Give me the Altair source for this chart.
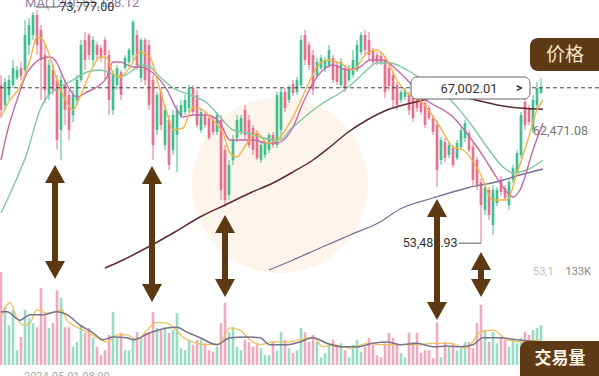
import altair as alt
import pandas as pd

# ---------------- data ----------------
opens = [67245, 65505, 66375, 67245, 67854, 68724, 68550, 70725, 71595, 73335,
         72030, 69855, 66375, 68550, 67680, 63330, 67245, 66375, 64635, 65940,
         67680, 71160, 71595, 69420, 70725, 70464, 71160, 69855, 65070, 67245,
         68376, 68724, 69246, 69855, 71595, 67854, 71160, 70725, 67680, 63330,
         66636, 62025, 64200, 61590, 62895, 64635, 64896, 65244, 66984, 66375,
         63330, 64635, 64374, 64200, 63156, 64200, 61590, 57675, 60720, 62634,
         63156, 65070, 64200, 63504, 63069, 60720, 61155, 61590, 62895, 62025,
         63330, 66636, 65940, 67332, 66636, 67245, 71595, 70725, 69855, 68115,
         68724, 68724, 68985, 69594, 68985, 67245, 68724, 67680, 68115, 68550,
         70116, 71595, 71160, 70290, 69855, 69768, 69420, 68724, 68115, 67245,
         65940, 66201, 66375, 66114, 66375, 66201, 65679, 65244, 64374, 63765,
         60720, 62286, 61155, 61764, 60894, 61851, 62634, 63069, 61851, 60720,
         58806, 56370, 58110, 55065, 56979, 58980, 58284, 56805, 58980, 59676,
         61155, 65766, 65244, 63330, 65505, 66549]
highs = [68115, 67854, 68115, 69420, 68898, 69246, 72900, 73074, 73596, 73777,
         72465, 70725, 69420, 68985, 68115, 68115, 67680, 66810, 66810, 68115,
         71160, 71856, 71769, 71508, 70986, 70725, 71421, 70290, 68550, 68985,
         68550, 69855, 70464, 72900, 72030, 71334, 71334, 71160, 68115, 66636,
         66984, 65505, 64635, 65070, 65505, 65940, 66375, 67245, 67245, 66810,
         65244, 64896, 64635, 64461, 64896, 64635, 62025, 60720, 62895, 64635,
         64635, 65505, 64635, 63765, 63330, 62286, 62460, 63069, 63156, 66636,
         66984, 66984, 67245, 67680, 67941, 71595, 72030, 70986, 70290, 69594,
         69855, 69681, 70725, 69855, 69246, 69594, 68985, 68985, 70290, 71160,
         71856, 72030, 71856, 70464, 70116, 70116, 69768, 68985, 68376, 67506,
         66810, 66984, 66636, 66375, 66636, 66462, 65940, 65505, 64635, 64200,
         62721, 62634, 62286, 62025, 62460, 63591, 64200, 63330, 62199, 60981,
         59154, 58545, 58371, 58545, 58371, 59328, 58545, 59154, 60285, 61590,
         64896, 66114, 65505, 66375, 67506, 67854]
lows = [64374, 65070, 65940, 66984, 67680, 67680, 68376, 69855, 71160, 69855,
        65940, 65679, 65940, 66375, 61590, 60720, 63765, 62460, 64026, 65505,
        67506, 68550, 69420, 68985, 69420, 69246, 67680, 64635, 64635, 66810,
        65940, 68550, 68898, 69420, 68550, 67506, 67245, 65070, 60720, 62895,
        63330, 61590, 59850, 61155, 59676, 64374, 64635, 64896, 64635, 63504,
        63069, 63504, 62460, 62895, 62895, 57240, 56631, 57240, 60285, 62286,
        62895, 62460, 61764, 61155, 60720, 60459, 60894, 61329, 61764, 61764,
        62460, 64896, 65679, 66288, 66375, 66984, 68985, 68550, 66375, 67854,
        68550, 68376, 68724, 67419, 67245, 66984, 66636, 67506, 67854, 68376,
        69855, 69855, 69420, 68985, 68985, 68985, 66114, 66810, 65244, 65070,
        65679, 65940, 64635, 64026, 64896, 64635, 63504, 64200, 62895, 58371,
        60285, 60546, 60894, 60024, 60720, 61590, 62286, 61416, 58545, 58110,
        53485.93, 55935, 55500, 54195, 56718, 57588, 57240, 56370, 58719, 59415,
        60894, 63330, 63765, 63069, 65070, 66462]
closes = [65070, 67506, 67680, 68724, 68550, 68028, 71595, 72465, 73335, 70725,
          69420, 66810, 68985, 66810, 62460, 67680, 65070, 63330, 66375, 67680,
          70725, 69420, 69855, 71160, 69855, 69594, 69855, 65940, 68115, 68724,
          66375, 69594, 70290, 72726, 68985, 71160, 67680, 65505, 62025, 66375,
          63765, 65070, 60285, 64635, 65070, 65505, 65940, 66984, 64896, 63765,
          64896, 63765, 62634, 63156, 64635, 58110, 57240, 60285, 62460, 64200,
          64374, 62895, 62025, 61590, 60894, 62025, 62286, 62895, 62025, 66375,
          66636, 65244, 66984, 66549, 67680, 71160, 69420, 68985, 66810, 69246,
          69594, 69420, 70290, 67680, 67506, 69246, 66984, 68724, 69420, 70725,
          71595, 70290, 69855, 69246, 69246, 69246, 66636, 67158, 65940, 65505,
          66636, 66810, 65070, 64374, 65244, 64896, 63765, 64374, 63156, 59850,
          62460, 60894, 62025, 60285, 62199, 63330, 63939, 61590, 58980, 58545,
          56805, 58284, 55935, 58110, 58110, 57936, 57414, 58806, 60024, 61329,
          64635, 63765, 64026, 65940, 66984, 67002.01]
volumes_k = [133, 83, 57, 79, 21, 40, 79, 67, 60, 54,
             110, 72, 53, 60, 107, 96, 54, 54, 26, 33,
             57, 46, 53, 39, 26, 14, 21, 43, 76, 39,
             46, 21, 21, 36, 47, 39, 47, 47, 76, 53,
             50, 54, 46, 50, 74, 24, 21, 36, 29, 36,
             36, 31, 21, 19, 26, 60, 89, 47, 54, 26,
             21, 36, 33, 26, 31, 24, 14, 14, 33, 21,
             47, 36, 24, 17, 21, 53, 47, 33, 43, 33,
             11, 17, 31, 36, 26, 31, 21, 11, 29, 36,
             19, 26, 39, 29, 14, 11, 31, 46, 39, 31,
             17, 11, 46, 33, 46, 17, 21, 21, 10, 61,
             11, 33, 26, 31, 21, 24, 33, 33, 24, 60,
             86, 50, 33, 47, 31, 39, 36, 26, 36, 31,
             39, 47, 43, 50, 53, 57]

# moving-average lines (candle index, value)
ma_yellow_i = [0, 2.25, 4.75, 7.25, 9, 10.5, 12.25, 14, 16.5, 18, 19.75, 21.5, 23, 24.75, 26.5, 28, 29.75,
               32.25, 34.75, 37.25, 39, 41.5, 43, 45.5, 48, 50.5, 53, 55.5, 57.25, 59, 61.5, 64, 66.5, 69,
               73, 76.5, 79, 81.5, 84.75, 88, 91.5, 94, 96.5, 99, 101.5, 104.75, 109.75, 113, 115.5,
               119.75, 123, 126.5, 129, 131.5, 134, 135.5]
ma_yellow_v = [64461, 65940, 67071, 69420, 71421, 71160, 69681, 67680, 65679, 65070, 66201, 67680, 68811,
               69681, 69594, 68289, 67941, 68811, 70116, 69681, 67680, 64809, 63330, 63504, 65331, 65070,
               64200, 63069, 61329, 60981, 62199, 63069, 62199, 62460, 64461, 67071, 68811, 69420, 69159,
               68550, 70029, 70290, 69420, 67680, 66549, 65940, 63591, 61851, 61590, 59589, 57240, 57240,
               59589, 62199, 65070, 65940]
ma_magenta_i = [0, 1.5, 4, 6.5, 8, 10.5, 12.25, 14, 15.5, 17.25, 19, 21.5, 24, 26.5, 28, 29.75, 33, 34.75,
                38, 41.5, 44, 45.5, 48, 51.5, 54.75, 57.25, 59.75, 63, 66.5, 69, 73, 75.5, 78, 80.5, 83,
                86.5, 89.75, 92.25, 95.5, 99, 102.25, 104.75, 113, 119, 122.25, 125.5, 128, 129.75, 133,
                135.5]
ma_magenta_v = [60720, 63069, 65940, 68289, 68985, 69594, 69681, 69159, 67941, 66810, 66201, 66636, 67071,
                67941, 69246, 69246, 68811, 68811, 68289, 66810, 65070, 64461, 64635, 64635, 63939, 62460,
                62460, 62460, 62199, 62199, 63591, 65679, 67419, 68550, 68985, 68550, 68811, 69420, 69420,
                68550, 67419, 66375, 64461, 61851, 60111, 58371, 57501, 58110, 61590, 63939]
ma_green_i = [0, 3, 6.5, 9.75, 11.5, 14.75, 18, 21.5, 24.75, 27.25, 29.75, 33, 34.75, 37.25, 39.75, 43,
              47.25, 51.5, 54.75, 58, 61.5, 64.75, 68, 69.75, 72.25, 76.5, 80.5, 84.75, 88, 91.5, 94,
              97.25, 101.5, 104.75, 109.75, 117.25, 121.5, 125.5, 128, 131.5, 135.5]
ma_green_v = [56109, 58371, 61329, 65070, 66201, 67071, 67680, 68376, 68550, 68289, 67941, 68550, 68985,
              68811, 67941, 66984, 66375, 65679, 64461, 63330, 63069, 62721, 62460, 62460, 63330, 64635,
              65679, 66549, 67419, 68550, 69159, 69159, 68550, 67854, 66810, 63939, 61851, 60111, 59589,
              59850, 60720]
ma120_i = [26, 30.5, 37.25, 43.5, 49.75, 56, 62.25, 68, 73, 78, 82.25, 86.5, 91.5, 96.5, 101.5, 104.75,
           109.75, 113.5, 119.75, 125.5, 129.75, 135.5]
ma120_v = [51324, 52020, 53238, 54456, 55761, 56805, 57849, 58719, 59676, 60720, 61851, 63069, 64200,
           65070, 65592, 65853, 66288, 66288, 65853, 65418, 65244, 65128.12]
ma_long_i = [67, 73, 79.75, 87.25, 94.75, 99.75, 108, 116.5, 124.75, 129.75, 135.5]
ma_long_v = [51150, 52020, 53064, 54195, 55326, 56457, 57414, 58284, 58893, 59415, 59937]

vol_ma_gray_i = [0, 1.5, 4.75, 7.25, 10.5, 14, 16.5, 19.75, 23, 25.5, 28, 31.5, 33, 37.25, 41.5, 44, 46.5,
                 49.75, 54, 57.25, 61.5, 64.75, 67.25, 71.5, 74.75, 78, 81.5, 85.5, 89, 93, 96.5, 99.75,
                 104, 108, 111.5, 114.75, 118, 120.5, 124.75, 129, 134.75]
vol_ma_gray_v = [76, 76, 64, 72, 72, 76, 72, 57, 46, 36, 40, 39, 36, 46, 53, 54, 47, 39, 29, 39, 40, 39,
                 29, 29, 33, 39, 31, 26, 26, 31, 33, 29, 31, 26, 27, 26, 29, 39, 39, 36, 33]
vol_ma_yel_i = [0, 2.25, 4, 5.5, 7.25, 9, 11.5, 13.5, 15.25, 16.5, 19, 21.5, 24, 26.5, 29, 31.5, 34, 36.5,
                39, 41.5, 43, 45.5, 49, 51.5, 54.75, 57.25, 59.75, 62.25, 64.75, 68, 71.5, 74.75, 78,
                80.5, 83, 87.25, 91.5, 95.5, 99.75, 104, 108, 112.25, 116.5, 119.75, 123, 126.5, 129.75,
                134.75]
vol_ma_yel_v = [69, 89, 67, 57, 60, 79, 74, 76, 79, 64, 54, 47, 39, 33, 43, 43, 36, 50, 61, 60, 54, 40,
                31, 29, 31, 53, 50, 36, 29, 33, 33, 36, 40, 26, 29, 24, 31, 29, 29, 29, 31, 31, 24, 47,
                50, 36, 33, 36]

# double arrows: candle index, top tip (price), bottom tip (price units)
arrow_i = [13.5, 37.75, 56, 109, 120]
arrow_top = [60285, 60198, 55935, 57327, 52716]
arrow_bottom = [50367, 48366, 48801, 46800, 48801]

# ---------------- styling ----------------
GREEN, PINK = "#3fbf8f", "#e8718e"
GREEN_V, PINK_V = "#98dcc4", "#f3a9bd"
BROWN = "#5c3913"
W, H = 599, 376
X = alt.Scale(domain=[-0.25, -0.25 + W / 4], nice=False, zero=False)
PY = alt.Scale(domain=[74640 - H * 87, 74640], nice=False, zero=False)
VY = alt.Scale(domain=[-11 * 1.43, 365 * 1.43], nice=False, zero=False)
FONT = "Roboto"
CJK = "Noto Sans CJK SC"

n = len(opens)
df = pd.DataFrame({"i": list(range(n)), "open": opens, "high": highs, "low": lows,
                   "close": closes, "vol": volumes_k, "zero": [0] * n})
up = "datum.close >= datum.open"

xq = alt.X("i:Q", scale=X, axis=None)


def line_df(ix, vals):
    return pd.DataFrame({"i": ix, "v": vals})


def price_line(ix, vals, color, width=1.4):
    return alt.Chart(line_df(ix, vals)).mark_line(
        color=color, strokeWidth=width, interpolate="monotone").encode(
        x=xq, y=alt.Y("v:Q", scale=PY, axis=None))


def vol_line(ix, vals, color, width=1.3):
    return alt.Chart(line_df(ix, vals)).mark_line(
        color=color, strokeWidth=width, interpolate="monotone").encode(
        x=xq, y=alt.Y("v:Q", scale=VY, axis=None))


base = alt.Chart(df)

watermark = alt.Chart(pd.DataFrame({"i": [69.75], "v": [58545]})).mark_point(
    shape="circle", size=31000, filled=True, color="#fdf4ec", opacity=1).encode(
    x=xq, y=alt.Y("v:Q", scale=PY, axis=None))

wicks = base.mark_rule(strokeWidth=1).encode(
    x=xq, y=alt.Y("low:Q", scale=PY, axis=None), y2="high:Q",
    color=alt.condition(up, alt.value(GREEN), alt.value(PINK)))
bodies = base.mark_rule(strokeWidth=2.7, strokeCap="butt").encode(
    x=xq, y=alt.Y("open:Q", scale=PY, axis=None), y2="close:Q",
    color=alt.condition(up, alt.value(GREEN), alt.value(PINK)))

last_df = pd.DataFrame({"v": [closes[-1]]})
dashed = alt.Chart(last_df).mark_rule(color="#444", strokeWidth=1, strokeDash=[4, 3]).encode(
    x=alt.value(0), x2=alt.value(W), y=alt.Y("v:Q", scale=PY, axis=None))

price_layer = alt.layer(
    watermark,
    wicks, bodies,
    price_line(ma_long_i, ma_long_v, "#7d6e95", 1.3),
    price_line(ma120_i, ma120_v, "#5e2a2e", 1.5),
    price_line(ma_green_i, ma_green_v, "#7dc9a2"),
    price_line(ma_magenta_i, ma_magenta_v, "#c36aab"),
    price_line(ma_yellow_i, ma_yellow_v, "#f0b445"),
    dashed,
)

vol_bars = base.mark_rule(strokeWidth=2.6, strokeCap="butt").encode(
    x=xq, y=alt.Y("vol:Q", scale=VY, axis=None), y2="zero:Q",
    color=alt.condition(up, alt.value(GREEN_V), alt.value(PINK_V)))
vol_layer = alt.layer(
    vol_bars,
    vol_line(vol_ma_yel_i, vol_ma_yel_v, "#f0c060"),
    vol_line(vol_ma_gray_i, vol_ma_gray_v, "#77738c", 1.5),
)

# ---------------- annotations ----------------
arr = pd.DataFrame({"i": arrow_i, "top": arrow_top, "bottom": arrow_bottom})
ach = alt.Chart(arr)
shafts = ach.transform_calculate(
    s1="datum.top - 1000", s2="datum.bottom + 1000").mark_rule(
    color=BROWN, strokeWidth=6, strokeCap="butt").encode(
    x=xq, y=alt.Y("s1:Q", scale=PY, axis=None), y2="s2:Q")
heads_up = ach.mark_point(shape="M0,0L2,3.6L-2,3.6Z", size=100, filled=True,
                          color=BROWN, opacity=1).encode(
    x=xq, y=alt.Y("top:Q", scale=PY, axis=None))
heads_dn = ach.mark_point(shape="M0,0L2,-3.6L-2,-3.6Z", size=100, filled=True,
                          color=BROWN, opacity=1).encode(
    x=xq, y=alt.Y("bottom:Q", scale=PY, axis=None))

ma_title = alt.Chart(pd.DataFrame({"t": ["MA(120): 65,128.12"]})).mark_text(
    align="left", baseline="alphabetic", font=FONT, fontSize=13, color="#8f7ea3").encode(
    x=alt.value(25), y=alt.value(7), text="t:N")

hi_df = pd.DataFrame({"i": [8.75], "i2": [14.25], "v": [74031], "t": ["73,777.00"], "ti": [14.6]})
hi_line = alt.Chart(hi_df).mark_rule(color="#555", strokeWidth=1).encode(
    x=alt.X("i:Q", scale=X, axis=None), x2="i2:Q", y=alt.Y("v:Q", scale=PY, axis=None))
hi_text = alt.Chart(hi_df).mark_text(align="left", baseline="middle", font=FONT, fontSize=12.5,
                                     color="#333").encode(
    x=alt.X("ti:Q", scale=X, axis=None), y=alt.Y("v:Q", scale=PY, axis=None), text="t:N")

lo_df = pd.DataFrame({"i": [114.4], "i2": [120], "v": [lows[120]], "t": ["53,485.93"]})
lo_line = alt.Chart(lo_df).mark_rule(color="#555", strokeWidth=1).encode(
    x=alt.X("i:Q", scale=X, axis=None), x2="i2:Q", y=alt.Y("v:Q", scale=PY, axis=None))
lo_text = alt.Chart(lo_df).mark_text(align="right", baseline="middle", font=FONT, fontSize=12.5,
                                     color="#333", dx=-1).encode(
    x=alt.X("i:Q", scale=X, axis=None), y=alt.Y("v:Q", scale=PY, axis=None), text="t:N")

right_lbl = alt.Chart(pd.DataFrame({"t": ["62,471.08"]})).mark_text(
    align="left", baseline="middle", font=FONT, fontSize=12.5, color="#777").encode(
    x=alt.value(533), y=alt.value(131), text="t:N")
vol_lbl_a = alt.Chart(pd.DataFrame({"t": ["53,1"]})).mark_text(
    align="left", baseline="middle", font=FONT, fontSize=11, color="#bbb").encode(
    x=alt.value(533), y=alt.value(272), text="t:N")
vol_lbl = alt.Chart(pd.DataFrame({"t": ["133K"]})).mark_text(
    align="right", baseline="middle", font=FONT, fontSize=11, color="#888").encode(
    x=alt.value(591), y=alt.value(272), text="t:N")
date_lbl = alt.Chart(pd.DataFrame({"t": ["2024-05-01 08:00"]})).mark_text(
    align="left", baseline="top", font=FONT, fontSize=11, color="#aaa").encode(
    x=alt.value(24), y=alt.value(371), text="t:N")

price_box = alt.Chart(pd.DataFrame({"a": [0]})).mark_rect(
    fill="white", stroke="#666", strokeWidth=1, cornerRadius=6).encode(
    x=alt.value(411), x2=alt.value(530), y=alt.value(77), y2=alt.value(99))
price_txt = alt.Chart(pd.DataFrame({"t": ["67,002.01"]})).mark_text(
    align="center", baseline="middle", font=FONT, fontSize=13, color="#333").encode(
    x=alt.value(469), y=alt.value(88.5), text="t:N")
price_chev = alt.Chart(pd.DataFrame({"t": [">"]})).mark_text(
    align="center", baseline="middle", font=FONT, fontSize=12, fontWeight="bold", color="#333").encode(
    x=alt.value(519), y=alt.value(88), text="t:N")

tag1_box = alt.Chart(pd.DataFrame({"a": [0]})).mark_rect(fill="#5e3a16", cornerRadius=8).encode(
    x=alt.value(530), x2=alt.value(610), y=alt.value(38), y2=alt.value(71))
tag1_txt = alt.Chart(pd.DataFrame({"t": ["价格"]})).mark_text(
    align="center", baseline="middle", font=CJK, fontSize=19, color="#f5e4c8").encode(
    x=alt.value(565), y=alt.value(55), text="t:N")
tag2_box = alt.Chart(pd.DataFrame({"a": [0]})).mark_rect(fill="#5e3a16", cornerRadius=8).encode(
    x=alt.value(520), x2=alt.value(610), y=alt.value(341), y2=alt.value(385))
tag2_txt = alt.Chart(pd.DataFrame({"t": ["交易量"]})).mark_text(
    align="center", baseline="middle", font=CJK, fontSize=17, fontWeight="bold", color="#fbf3e6").encode(
    x=alt.value(560), y=alt.value(359), text="t:N")

overlay = alt.layer(
    ma_title, hi_line, hi_text, lo_line, lo_text,
    shafts, heads_up, heads_dn,
    right_lbl, vol_lbl_a, vol_lbl, date_lbl,
    price_box, price_txt, price_chev,
    tag1_box, tag1_txt, tag2_box, tag2_txt,
)

chart = alt.layer(price_layer, vol_layer, overlay).resolve_scale(y="independent").properties(
    width=W, height=H, padding=0, autosize="none", background="white"
).configure_view(stroke=None)

chart.save("out.html", embed_options={"renderer": "svg", "actions": False})
